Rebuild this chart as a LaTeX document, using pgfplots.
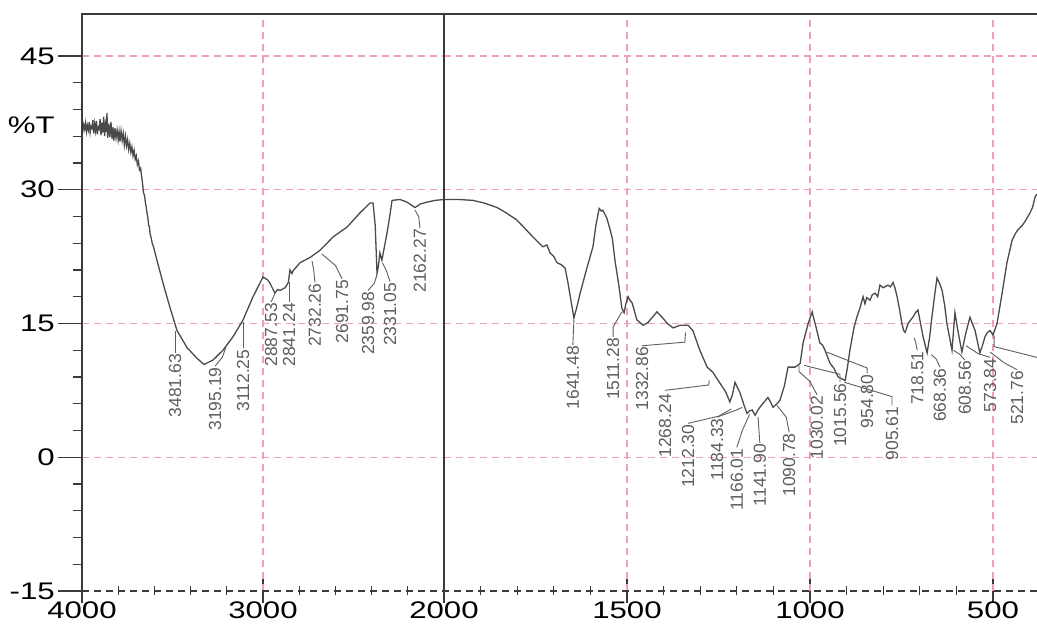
\documentclass[border=0pt]{standalone}
\usepackage{fontspec}
\usepackage{pgfplots}
\pgfplotsset{compat=1.18}
\setmainfont{Liberation Sans}
\newfontfamily\tickfont[FakeStretch=1.3]{Liberation Sans}
\newfontfamily\labfont{Liberation Sans}
\definecolor{curve}{HTML}{4A4A4A}
\definecolor{gridpink}{HTML}{F39CBE}
\definecolor{frame}{HTML}{3A3A3A}
\definecolor{labgray}{HTML}{5E5E5E}

\pgfplotstableread{
w y
4000 37.0
3995 36.6
3990 37.3
3985 36.8
3980 37.5
3975 36.5
3970 37.2
3965 36.7
3960 37.6
3955 36.4
3950 37.1
3945 36.9
3940 37.8
3935 36.3
3930 37.4
3925 36.6
3920 37.7
3915 36.2
3910 37.0
3905 36.8
3900 37.9
3895 36.1
3890 37.5
3885 36.4
3880 38.2
3875 36.0
3870 37.3
3865 36.5
3862 38.6
3858 35.8
3852 37.4
3846 35.9
3840 37.6
3834 35.7
3829 37.0
3824 35.5
3818 36.9
3812 35.8
3806 36.7
3800 35.6
3795 36.5
3790 35.4
3784 36.6
3778 35.5
3772 36.3
3766 35.0
3760 36.0
3754 34.9
3748 35.6
3742 34.5
3736 35.2
3730 34.2
3724 34.8
3718 33.8
3712 34.4
3706 33.4
3700 33.8
3694 32.8
3688 33.2
3682 32.2
3676 32.4
3670 31.4
3665 30.6
3660 29.6
3655 29.4
3650 28.6
3645 28.0
3641 27.4
3636 26.9
3632 26.0
3628 25.9
3624 25.1
3618 24.6
3612 24.0
3605 23.6
3586 22.1
3552 19.5
3514 16.8
3475 14.2
3420 12.3
3365 11.1
3326 10.4
3276 10.9
3221 12.0
3166 13.5
3110 15.4
3055 18.0
3000 20.2
2975 19.9
2961 19.5
2934 18.4
2920 18.8
2906 18.7
2878 19.0
2860 19.6
2851 21.0
2840 20.6
2834 20.9
2796 21.8
2740 22.4
2685 23.2
2646 24.0
2613 24.7
2536 25.8
2464 27.4
2409 28.5
2392 28.5
2380 26.0
2370 20.6
2362 21.5
2354 22.9
2343 22.1
2330 23.5
2315 25.1
2300 27.0
2287 28.8
2243 28.9
2204 28.6
2175 28.2
2160 28.0
2130 28.4
2094 28.6
2050 28.8
2000 28.9
}\leftdata

\pgfplotstableread{
w y
2000 28.9
1960 28.9
1921 28.8
1890 28.5
1855 28.0
1830 27.4
1801 26.6
1780 25.7
1757 24.7
1740 24.0
1730 23.6
1719 23.8
1710 22.9
1700 22.5
1691 21.8
1680 21.6
1669 21.2
1661 19.5
1652 17.3
1645 15.6
1636 17.0
1628 18.4
1609 21.3
1593 23.6
1585 26.0
1576 27.9
1570 27.6
1566 27.7
1555 26.8
1546 25.5
1540 24.5
1533 22.1
1522 19.2
1514 16.7
1508 16.2
1503 17.2
1497 18.0
1492 17.6
1486 17.3
1473 15.4
1456 14.8
1443 15.1
1418 16.3
1402 15.6
1390 15.0
1374 14.5
1355 14.8
1333 14.8
1320 14.2
1301 12.0
1281 10.1
1265 9.5
1246 8.3
1230 7.3
1219 6.2
1212 7.0
1205 8.4
1198 7.8
1191 7.2
1180 5.8
1172 4.9
1165 5.2
1158 5.3
1150 4.7
1142 5.3
1137 5.6
1125 6.2
1115 6.7
1108 6.2
1101 5.6
1090 6.0
1082 6.4
1070 8.0
1060 10.1
1041 10.1
1027 10.5
1019 12.8
1005 15.0
994 16.3
990 15.6
986 15.0
980 14.0
973 12.8
966 12.6
959 12.0
945 10.5
935 10.0
923 9.0
904 8.6
898 10.0
891 12.0
880 14.5
872 15.7
863 16.8
855 18.0
850 17.2
845 17.9
836 17.6
830 18.2
822 18.4
815 18.0
809 19.3
800 19.0
787 19.3
780 19.1
773 19.6
768 19.0
762 18.0
755 16.5
749 15.0
744 14.2
740 14.0
732 15.0
719 15.7
712 16.2
705 16.5
698 15.0
691 13.5
680 11.7
673 13.5
667 15.7
660 18.0
653 20.1
646 19.5
639 18.7
632 17.0
626 15.0
612 12.0
604 16.2
596 14.2
585 11.8
575 13.8
563 15.7
549 14.2
536 11.7
529 12.5
522 13.5
515 14.0
508 14.2
500 13.7
489 15.0
475 18.4
462 21.8
448 24.3
440 25.0
432 25.5
420 26.0
413 26.4
399 27.4
392 28.0
385 29.2
380 29.5
}\rightdata

\pgfplotsset{
  ftir/.style={
    scale only axis, height=577pt,
    ymin=-15, ymax=49.7,
    x dir=reverse,
    axis line style={draw=none},
    /pgf/number format/assume math mode=true,
    /pgf/number format/1000 sep={},
    ticklabel style={font=\tickfont\fontsize{24}{24}\selectfont, text=black},
    xtick pos=bottom,
    xtick align=center,
    major tick length=24pt, minor tick length=9pt,
    tick style={frame, line width=1.3pt},
    xticklabel style={yshift=2pt, inner sep=1pt},
  },
}
\tikzset{
  lab/.style={font=\labfont\fontsize{17.5}{17.5}\selectfont, text=labgray, rotate=90, anchor=east, inner sep=1pt},
  lead/.style={labgray, line width=0.9pt},
  gl/.style={gridpink, line width=1.4pt, dash pattern=on 7pt off 5pt},
}

\begin{document}
\begin{tikzpicture}[x=1pt,y=1pt]
\path[use as bounding box] (0,0) rectangle (1037,631);

\begin{axis}[ftir,
  at={(82pt,40pt)}, anchor=south west, width=362pt,
  xmin=2000, xmax=4000,
  xtick={2000,3000,4000}, minor x tick num=4,
  ytick={-15,0,15,30,45}, minor y tick num=4,
  ytick pos=left, ytick align=outside,
  yticklabel style={inner sep=1pt, xshift=-2pt},
]
\draw[gl] (axis cs:3000,-15) -- (axis cs:3000,49.7);
\draw[gl] (axis cs:4000,0) -- (axis cs:2000,0);
\draw[gl] (axis cs:4000,15) -- (axis cs:2000,15);
\draw[gl] (axis cs:4000,30) -- (axis cs:2000,30);
\draw[gl] (axis cs:4000,45) -- (axis cs:2000,45);
\addplot[curve, line width=1.3pt] table[x=w,y=y] {\leftdata};
\node[lab] at (axis cs:3486,11.7) {3481.63};
\draw[lead] (axis cs:3486,11.7) -- (axis cs:3486,14.1);
\node[lab] at (axis cs:3265,10.2) {3195.19};
\draw[lead] (axis cs:3265,10.2) -- (axis cs:3225,11.2) -- (axis cs:3205,12.3);
\node[lab] at (axis cs:3110,12.2) {3112.25};
\draw[lead] (axis cs:3110,12.2) -- (axis cs:3110,15.2);
\node[lab] at (axis cs:2955,17.4) {2887.53};
\draw[lead] (axis cs:2955,17.4) -- (axis cs:2935,18.3);
\node[lab] at (axis cs:2856,17.4) {2841.24};
\draw[lead] (axis cs:2856,17.4) -- (axis cs:2856,19.6);
\node[lab] at (axis cs:2713,19.6) {2732.26};
\draw[lead] (axis cs:2713,19.6) -- (axis cs:2720,21.0) -- (axis cs:2729,22.0);
\node[lab] at (axis cs:2563,20.0) {2691.75};
\draw[lead] (axis cs:2563,20.0) -- (axis cs:2600,21.5) -- (axis cs:2675,22.8);
\node[lab] at (axis cs:2420,18.7) {2359.98};
\draw[lead] (axis cs:2420,18.7) -- (axis cs:2385,19.5) -- (axis cs:2372,20.4);
\node[lab] at (axis cs:2298,19.7) {2331.05};
\draw[lead] (axis cs:2298,19.7) -- (axis cs:2320,21.0) -- (axis cs:2340,21.8);
\node[lab] at (axis cs:2133,25.7) {2162.27};
\draw[lead] (axis cs:2133,25.7) -- (axis cs:2140,27.0) -- (axis cs:2160,27.7);
\end{axis}

\begin{axis}[ftir,
  at={(444pt,40pt)}, anchor=south west, width=593pt,
  xmin=379.8, xmax=2000,
  xtick={500,1000,1500,2000}, xticklabels={500,1000,1500,},
  minor x tick num=4,
  ytick=\empty,
]
\draw[gl] (axis cs:1500,-15) -- (axis cs:1500,49.7);
\draw[gl] (axis cs:1000,-15) -- (axis cs:1000,49.7);
\draw[gl] (axis cs:500,-15) -- (axis cs:500,49.7);
\draw[gl] (axis cs:2000,0) -- (axis cs:379.8,0);
\draw[gl] (axis cs:2000,15) -- (axis cs:379.8,15);
\draw[gl] (axis cs:2000,30) -- (axis cs:379.8,30);
\draw[gl] (axis cs:2000,45) -- (axis cs:379.8,45);
\addplot[curve, line width=1.3pt] table[x=w,y=y] {\rightdata};
\node[lab] at (axis cs:1648,12.6) {1641.48};
\draw[lead] (axis cs:1648,12.6) -- (axis cs:1645,15.4);
\node[lab] at (axis cs:1538,13.5) {1511.28};
\draw[lead] (axis cs:1538,13.5) -- (axis cs:1538,14.6) -- (axis cs:1514,16.3);
\node[lab] at (axis cs:1459,12.5) {1332.86};
\draw[lead] (axis cs:1459,12.5) -- (axis cs:1342,12.9) -- (axis cs:1340,14.0);
\node[lab] at (axis cs:1396,7.2) {1268.24};
\draw[lead] (axis cs:1396,7.5) -- (axis cs:1277,8.1) -- (axis cs:1275,8.6);
\node[lab] at (axis cs:1333,3.8) {1212.30};
\draw[lead] (axis cs:1333,3.8) -- (axis cs:1250,4.6) -- (axis cs:1215,5.4);
\node[lab] at (axis cs:1254,4.5) {1184.33};
\draw[lead] (axis cs:1254,4.5) -- (axis cs:1200,5.3) -- (axis cs:1185,5.6);
\node[lab] at (axis cs:1200,1.1) {1166.01};
\draw[lead] (axis cs:1200,1.1) -- (axis cs:1185,3.0) -- (axis cs:1165,4.8);
\node[lab] at (axis cs:1137,1.6) {1141.90};
\draw[lead] (axis cs:1137,1.6) -- (axis cs:1142,4.5);
\node[lab] at (axis cs:1057,2.8) {1090.78};
\draw[lead] (axis cs:1057,2.8) -- (axis cs:1065,4.5) -- (axis cs:1090,5.8);
\node[lab] at (axis cs:981,7.0) {1030.02};
\draw[lead] (axis cs:981,7.0) -- (axis cs:1000,8.5) -- (axis cs:1030,9.6) -- (axis cs:1030,10.3);
\node[lab] at (axis cs:918,8.4) {1015.56};
\draw[lead] (axis cs:918,8.4) -- (axis cs:918,9.3) -- (axis cs:1016,10.3);
\node[lab] at (axis cs:844,9.4) {954.80};
\draw[lead] (axis cs:844,9.4) -- (axis cs:844,10.0) -- (axis cs:955,11.8);
\node[lab] at (axis cs:776,5.8) {905.61};
\draw[lead] (axis cs:776,5.8) -- (axis cs:776,6.8) -- (axis cs:906,8.4);
\node[lab] at (axis cs:707,12.0) {718.51};
\draw[lead] (axis cs:707,12.0) -- (axis cs:712,13.0) -- (axis cs:716,13.4);
\node[lab] at (axis cs:645,10.1) {668.36};
\draw[lead] (axis cs:645,10.1) -- (axis cs:655,11.0) -- (axis cs:668,11.5);
\node[lab] at (axis cs:577,10.9) {608.56};
\draw[lead] (axis cs:577,10.9) -- (axis cs:590,11.5) -- (axis cs:608,12.0);
\node[lab] at (axis cs:508,11.2) {573.84};
\draw[lead] (axis cs:508,11.2) -- (axis cs:540,11.6) -- (axis cs:574,12.5);
\node[lab] at (axis cs:434,9.8) {521.76};
\draw[lead] (axis cs:434,9.8) -- (axis cs:470,10.6) -- (axis cs:508,11.8);
\draw[lead] (axis cs:380,11.2) -- (axis cs:497,12.4) -- (axis cs:497,13.6);
\end{axis}

% frame
\draw[frame, line width=1.2pt, dash pattern=on 7pt off 5pt] (82,40) -- (1037,40);
\draw[frame, line width=2.4pt] (82,617) -- (1037,617);
\draw[frame, line width=2pt] (82,618) -- (82,28);
\draw[frame, line width=2.4pt] (444,618) -- (444,28);
\node[anchor=east, inner sep=0pt, font=\tickfont\fontsize{24}{24}\selectfont] at (55,506) {\%T};
\end{tikzpicture}
\end{document}
